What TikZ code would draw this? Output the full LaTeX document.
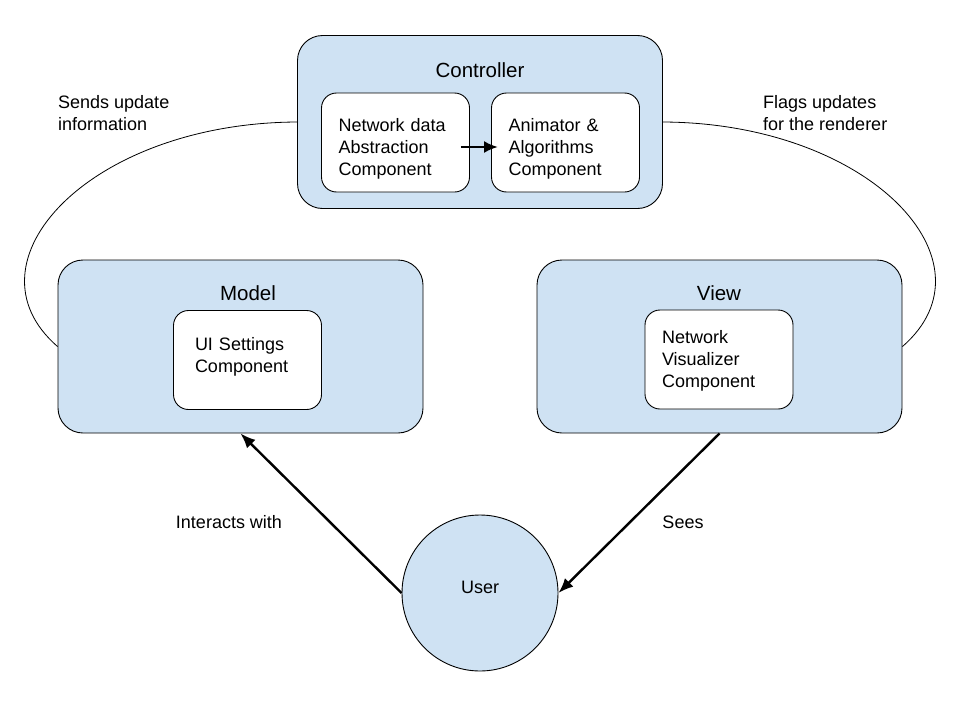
\documentclass[tikz,border=0pt]{standalone}
\usepackage{fontspec}
\setmainfont{Liberation Sans}
\usepackage{xcolor}
\usetikzlibrary{arrows.meta,positioning,shapes}
\definecolor{boxblue}{HTML}{CFE2F3}

\begin{document}
\begin{tikzpicture}[x = 1pt, y = -1pt,
    tierbox/.style = {draw, fill = boxblue, rounded corners = 25pt, line width = 0.9pt, minimum width = 365pt, minimum height = 173pt, inner sep = 0pt},
    partbox/.style = {draw, fill = white, rounded corners = 15pt, line width = 0.9pt, minimum width = 148pt, minimum height = 99pt, inner sep = 0pt},
    parttext/.style = {inner sep = 0pt, text width = 114pt, align = left, font = \fontsize{18}{22}\selectfont},
    tiertitle/.style = {font = \fontsize{20.5}{24}\selectfont},
    sidenote/.style = {inner sep = 0pt, font = \fontsize{18}{22}\selectfont, align = left},
    plainlink/.style = {line width = 0.8pt},
    userflow/.style = {-{Latex[length = 15pt, width = 12pt]}, line width = 2.4pt}]
  \useasboundingbox (0,0) rectangle (960,720);
    \node[tierbox] (ctrl) at (480,122) {};
    \node[tierbox] (model) at (240.5,346.5) {};
    \node[tierbox] (view) at (719.5,346.5) {};
    \node[draw, circle, fill = boxblue, line width = 0.9pt, minimum size = 156pt, inner sep = 0pt] (user) at (480,593) {};
    \node[font = \fontsize{18}{22}\selectfont] (usertext) at ([yshift = 6pt]user) {User};
    % Titles
    \node[tiertitle] (ctrltitle) at (480,70) {Controller};
    \node[tiertitle] (modeltitle) at (248,293) {Model};
    \node[tiertitle] (viewtitle) at (719,293) {View};
    % Components
    \node[partbox] (netdata) at (395.5,142.5) {};
    \node[partbox] (anim) at (565.5,142.5) {};
    \node[partbox] (uiset) at (247.5,360) {};
    \node[partbox] (netvis) at (719,359.5) {};
    \node[parttext] (netdatatext) at ([yshift = -6.5pt]netdata) {Network data\\Abstraction\\Component};
    \node[parttext] (animtext) at ([yshift = -6.5pt]anim) {Animator \&\\Algorithms\\Component};
    \node[parttext, text width = 105pt] (uisettext) at ([yshift = 3pt]uiset) {UI Settings\\Component};
    \node[parttext] (netvistext) at ([yshift = -1.5pt]netvis) {Network\\Visualizer\\Component};
    \draw[-{Latex[length = 14pt, width = 12pt]}, line width = 2.5pt] ([xshift = -9pt, yshift = -4.5pt]netdata.east) -- ([xshift = 7pt, yshift = -4.5pt]anim.west);
    % Links
    \draw[plainlink] (ctrl.west) .. controls (90,123) and (-40,262) .. (model.west);
    \draw[plainlink] (ctrl.east) .. controls (870,123) and (1000,262) .. (view.east);
    \draw[userflow] (user.west) -- (model.south);
    \draw[userflow] (view.south) -- (user.east);
    % Labels
    \node[sidenote, anchor = west] (sends) at (58,113) {Sends update\\information};
    \node[sidenote, anchor = west] (flags) at (763,113) {Flags updates\\for the renderer};
    \node[sidenote] (interacts) at (229,522) {Interacts with};
    \node[sidenote] (sees) at (683,522) {Sees};
  \end{tikzpicture}
\end{document}
